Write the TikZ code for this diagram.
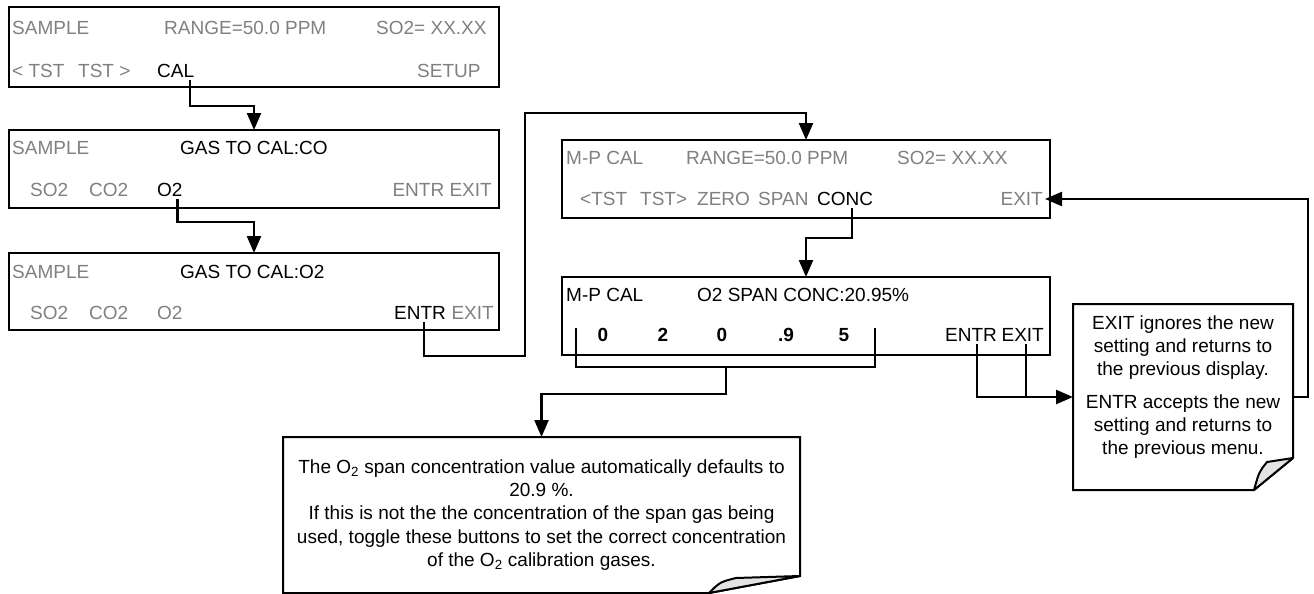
\documentclass[tikz,border=0pt]{standalone}
\usepackage{fontspec}
\setmainfont{Liberation Sans}
\usetikzlibrary{arrows.meta}
\definecolor{lcdgray}{HTML}{808080}
\newcommand\dispfont{\fontsize{19}{23}\selectfont}
\newcommand\notefont{\fontsize{19}{23.3}\selectfont}
\begin{document}
\begin{tikzpicture}[x=1pt,y=-1pt,
 scr/.style={draw, line width=2pt, anchor=north west, inner sep=0, outer sep=0},
 lbl/.style={font=\dispfont, inner sep=0, text height=13.6pt, text depth=0pt, anchor=west},
 dim/.style={lbl, text=lcdgray},
 hot/.style={lbl, text=black},
 digit/.style={hot, anchor=center, font=\dispfont\bfseries},
 wire/.style={line width=2.3pt},
 arr/.style={wire, -{Triangle[length=17pt,width=14pt]}},
 notebox/.style={draw, line width=2pt, line join=miter},
 flap/.style={draw, line width=2pt, fill=gray!22, line join=round}
]
\useasboundingbox (0,0) rectangle (1314,594);

% ---------- screens ----------
\node[scr, minimum width=490pt, minimum height=80pt] (b1) at (9,7) {};
\node[scr, minimum width=490pt, minimum height=78pt] (b2) at (9,130) {};
\node[scr, minimum width=490pt, minimum height=77pt] (b3) at (9,253) {};
\node[scr, minimum width=488pt, minimum height=78pt] (b4) at (562,140) {};
\node[scr, minimum width=488pt, minimum height=78pt] (b5) at (562,277) {};

% box 1
\node[dim] (s1a) at (12,28) {SAMPLE};
\node[dim] (s1b) at (164,28) {RANGE=50.0 PPM};
\node[dim] (s1c) at (376,28) {SO2= XX.XX};
\node[dim] (t1a) at (12,71) {< TST};
\node[dim] (t1b) at (78,71) {TST >};
\node[hot] (cal) at (157,71) {CAL};
\node[dim] (setup) at (417,71) {SETUP};

% box 2
\node[dim] (s2a) at (12,148) {SAMPLE};
\node[hot] (s2b) at (180,148) {GAS TO CAL:CO};
\node[dim] (so2a) at (30,190) {SO2};
\node[dim] (co2a) at (89,190) {CO2};
\node[hot] (o2a) at (157,190) {O2};
\node[dim, anchor=east] (ee2) at (492,190) {ENTR EXIT};

% box 3
\node[dim] (s3a) at (12,272) {SAMPLE};
\node[hot] (s3b) at (180,272) {GAS TO CAL:O2};
\node[dim] (so2b) at (30,313) {SO2};
\node[dim] (co2b) at (89,313) {CO2};
\node[dim] (o2b) at (157,313) {O2};
\node[hot] (entr3) at (394,313) {ENTR};
\node[dim, anchor=east] (exit3) at (494,313) {EXIT};

% box 4
\node[dim] (s4a) at (566,158) {M-P CAL};
\node[dim] (s4b) at (686,158) {RANGE=50.0 PPM};
\node[dim] (s4c) at (897,158) {SO2= XX.XX};
\node[dim] (t4a) at (580,199) {<TST};
\node[dim] (t4b) at (640,199) {TST>};
\node[dim] (zero) at (697,199) {ZERO};
\node[dim] (span) at (758,199) {SPAN};
\node[hot] (conc) at (817,199) {CONC};
\node[dim, anchor=east] (exit4) at (1043,199) {EXIT};

% box 5
\node[hot] (s5a) at (566,295) {M-P CAL};
\node[hot] (s5b) at (697,295) {O2 SPAN CONC:20.95\%};
\node[digit] (d1) at (603,335) {0};
\node[digit] (d2) at (663,335) {2};
\node[digit] (d3) at (722,335) {0};
\node[digit] (d4) at (786,335) {.9};
\node[digit] (d5) at (844,335) {5};
\node[hot] (entr5) at (945,335) {ENTR};
\node[hot, anchor=east] (exit5) at (1044,335) {EXIT};

% ---------- notes ----------
\node[anchor=north west, minimum width=517pt, minimum height=156pt, inner sep=0, outer sep=0,
      align=center, font=\notefont] (n1) at (283,437)
 {The O\textsubscript{2} span concentration value automatically defaults to\\
  20.9 \%.\\
  If this is not the the concentration of the span gas being\\
  used, toggle these buttons to set the correct concentration\\
  of the O\textsubscript{2} calibration gases.};
\draw[notebox] (n1.north west) -- (n1.north east) -- ([yshift=17pt]n1.south east)
  -- ([xshift=-91pt]n1.south east) -- (n1.south west) -- cycle;
\filldraw[flap] ([xshift=-91pt]n1.south east) .. controls ([xshift=-80pt,yshift=11pt]n1.south east)
  .. ([xshift=-64pt,yshift=15pt]n1.south east) -- ([yshift=17pt]n1.south east) -- cycle;

\node[anchor=north west, minimum width=220pt, minimum height=186pt, inner sep=0, outer sep=0] (n2) at (1073,304) {};
\draw[notebox] (n2.north west) -- (n2.north east) -- ([yshift=32pt]n2.south east)
  -- ([xshift=-39pt]n2.south east) -- (n2.south west) -- cycle;
\filldraw[flap] ([xshift=-39pt]n2.south east) .. controls ([xshift=-34pt,yshift=18pt]n2.south east)
  .. ([xshift=-26pt,yshift=28pt]n2.south east) -- ([yshift=32pt]n2.south east) -- cycle;
\node[align=center, font=\notefont, inner sep=0] (n2t) at (1183,387)
 {EXIT ignores the new\\ setting and returns to\\ the previous display.\\[9pt]
  ENTR accepts the new\\ setting and returns to\\ the previous menu.};

% ---------- connectors ----------
\draw[arr] ([xshift=14pt,yshift=-2pt]cal.south) |- ([yshift=24pt]b2.north) -- (b2.north);
\draw[arr] ([xshift=7.5pt,yshift=-2pt]o2a.south) |- ([yshift=31pt]b3.north) -- (b3.north);
\coordinate (t1) at (525,356);
\draw[arr] ([xshift=4pt,yshift=-2pt]entr3.south) |- (t1) |- ([yshift=27pt]b4.north) -- (b4.north);
\draw[arr] ([xshift=7pt,yshift=-2pt]conc.south) |- ([yshift=39pt]b5.north) -- (b5.north);

\coordinate (bl) at (576,328);
\coordinate (br) at (875,328);
\draw[wire] (bl) -- ++(0,39) -| (br);
\coordinate (bm) at (726,367);
\draw[arr] (bm) |- ([yshift=43pt]n1.north) -- (n1.north);

\draw[arr] ([xshift=6pt,yshift=-2pt]entr5.south) |- (n2.west);
\coordinate (e5) at ([xshift=3pt,yshift=-2pt]exit5.south);
\draw[wire] (e5) -- (e5 |- n2.west);

\draw[arr] (n2.east) -- ++(15,0) |- ([xshift=2pt]exit4.east);
\end{tikzpicture}
\end{document}
